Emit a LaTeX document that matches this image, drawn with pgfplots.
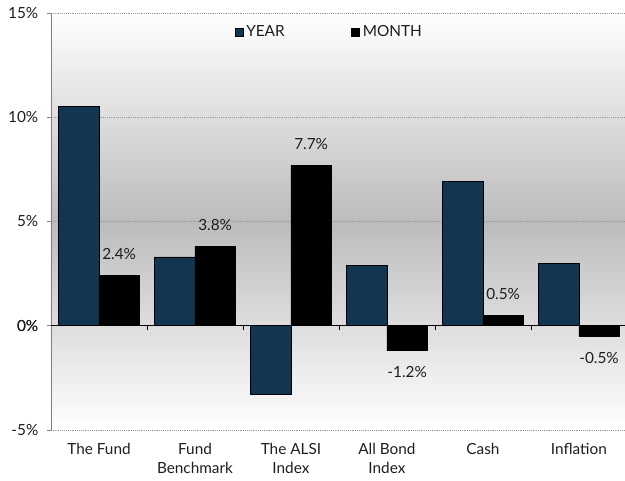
\documentclass[border=0pt]{standalone}
\usepackage{pgfplots}
\pgfplotsset{compat=1.18}
\usepackage{fontspec}
\setmainfont{Lato}
\definecolor{navy}{RGB}{18,54,80}
\definecolor{bggray}{RGB}{188,188,188}
\definecolor{txt}{RGB}{30,30,30}
\begin{document}
\begin{tikzpicture}
\useasboundingbox (-38.25pt,-38.25pt) rectangle (430.5pt,322.5pt);
\begin{axis}[
  at={(0pt,0pt)}, anchor=south west,
  scale only axis, width=430.5pt, height=312.75pt,
  xmin=-0.5, xmax=5.48, ymin=-5, ymax=15,
  axis background/.style={top color=white, bottom color=white, middle color=bggray},
  axis line style={draw=none},
  ytick={-5,0,5,10,15},
  yticklabel={\pgfmathprintnumber{\tick}\%},
  /pgf/number format/assume math mode=true,
  ymajorgrids, grid style={densely dotted, gray!80, line width=0.6pt},
  extra y ticks={0}, extra y tick style={grid=none},
  y tick style={gray, line width=0.5pt}, major tick length=3pt,
  ytick pos=left, tick align=outside,
  xtick={0,...,5},
  xticklabels={The Fund, Fund\\Benchmark, The ALSI\\Index, All Bond\\Index, Cash, Inflation},
  x tick label style={align=center, anchor=north, yshift=-3.5pt},
  x tick style={draw=none},
  tick label style={font=\fontsize{11.5}{14}\selectfont, text=txt},
  y tick label style={xshift=-3pt},
  ybar, bar width=0.42,
  legend style={at={(0.4855,0.954)}, anchor=center, draw=none, fill=none,
    legend columns=2, font=\fontsize{11.5}{12}\selectfont, text=txt,
    /tikz/every even column/.append style={column sep=48pt},
    legend cell align=left},
  legend image code/.code={\draw[#1, draw=black, line width=0.6pt] (0pt,-3pt) rectangle (6pt,3pt);},
  nodes near coords style={font=\fontsize{11.5}{12}\selectfont, text=txt},
]
\addplot[fill=navy, draw=black, line width=0.6pt, bar shift=-0.21]
  coordinates {(0,10.5) (1,3.3) (2,-3.3) (3,2.9) (4,6.9) (5,3.0)};
\addplot[fill=black, draw=black, line width=0.6pt, bar shift=0.21,
  nodes near coords={\pgfmathprintnumber[fixed,precision=1,fixed zerofill]{\pgfplotspointmeta}\%},
  every node near coord/.append style={inner sep=11.5pt}]
  coordinates {(0,2.4) (1,3.8) (2,7.7) (3,-1.2) (4,0.5) (5,-0.5)};
\legend{YEAR, MONTH}
\draw[gray, line width=0.6pt] (axis cs:-0.5,-5) -- (axis cs:-0.5,15);
\draw[black, line width=0.7pt] (axis cs:-0.5,0) -- (axis cs:5.48,0);
\pgfplotsinvokeforeach{0.5,1.5,2.5,3.5,4.5}{
  \draw[black, line width=0.6pt] (axis cs:#1,0) -- ++(0pt,-3pt);
}
\end{axis}
\end{tikzpicture}
\end{document}
